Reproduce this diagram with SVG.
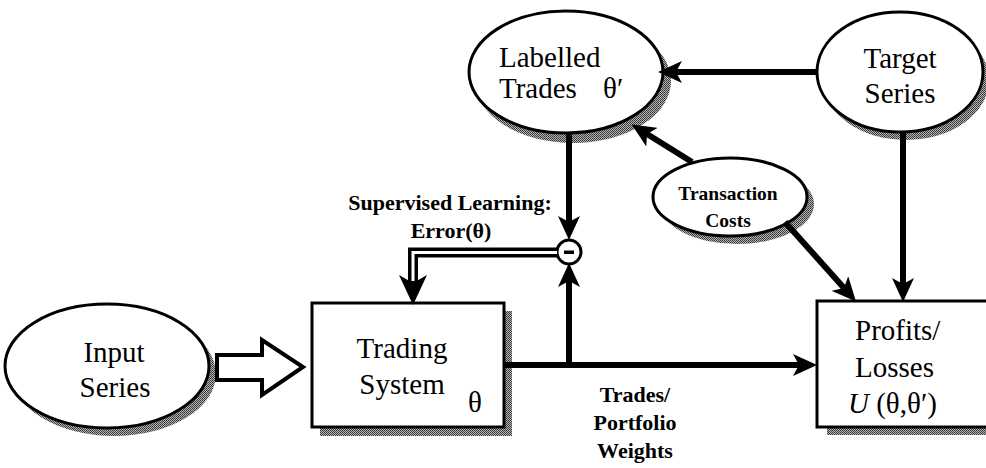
<svg xmlns="http://www.w3.org/2000/svg" width="986" height="468" viewBox="0 0 986 468">
<defs>
<pattern id="stip" width="2" height="2" patternUnits="userSpaceOnUse">
<rect width="2" height="2" fill="#b4b4b4"/>
<rect width="1" height="1" fill="#333"/>
<rect x="1" y="1" width="1" height="1" fill="#444"/>
</pattern>
<marker id="ah" markerUnits="userSpaceOnUse" markerWidth="24" markerHeight="22" viewBox="0 0 24 22" refX="6" refY="11" orient="auto">
<path d="M0,0 L24,11 L0,22 L6,11 Z" fill="#000"/>
</marker>
<marker id="ahb" markerUnits="userSpaceOnUse" markerWidth="30" markerHeight="28" viewBox="0 0 30 28" refX="8" refY="14" orient="auto">
<path d="M0,0 L30,14 L0,28 L8,14 Z" fill="#000"/>
</marker>
</defs>
<style>
.node{fill:#fff;stroke:#000;stroke-width:3}
.shadow{fill:url(#stip);stroke:none}
.t{font-family:"Liberation Serif","Times New Roman",serif;font-size:29px;fill:#000}
.lbl{font-family:"Liberation Serif","Times New Roman",serif;font-weight:bold;font-size:22px;fill:#000}
.conn{fill:none;stroke:#000;stroke-width:6}
</style>
<rect width="986" height="468" fill="#fff"/>

<g id="input-series">
<ellipse class="shadow" cx="114" cy="374" rx="102" ry="62"/>
<ellipse class="node" cx="107" cy="366" rx="102" ry="62"/>
<text class="t" x="114" y="362" text-anchor="middle">Input</text>
<text class="t" x="115" y="397" text-anchor="middle">Series</text>
</g>

<g id="trading-system">
<rect class="shadow" x="320" y="311" width="192" height="125"/>
<rect class="node" x="312" y="303" width="192" height="124"/>
<text class="t" x="402" y="358" text-anchor="middle">Trading</text>
<text class="t" x="402" y="394" text-anchor="middle">System</text>
<text class="t" x="468" y="412">θ</text>
</g>

<g id="labelled-trades">
<ellipse class="shadow" cx="573" cy="81" rx="98" ry="62"/>
<ellipse class="node" cx="566" cy="72" rx="97" ry="61"/>
<text class="t" x="499" y="67">Labelled</text>
<text class="t" x="499" y="98">Trades<tspan x="603">θ′</tspan></text>
</g>

<g id="target-series">
<ellipse class="shadow" cx="906" cy="80" rx="83" ry="60"/>
<ellipse class="node" cx="900" cy="72" rx="83" ry="60"/>
<text class="t" x="900" y="68" text-anchor="middle">Target</text>
<text class="t" x="900" y="103" text-anchor="middle">Series</text>
</g>

<g id="transaction-costs">
<ellipse class="shadow" cx="737" cy="204" rx="77" ry="40"/>
<ellipse class="node" cx="730" cy="197" rx="77" ry="39"/>
<text class="lbl" x="728" y="200" text-anchor="middle" style="font-size:19.5px">Transaction</text>
<text class="lbl" x="728" y="227" text-anchor="middle" style="font-size:19.5px">Costs</text>
</g>

<g id="profits-losses">
<rect class="shadow" x="827" y="311" width="170" height="124"/>
<rect class="node" x="817" y="301" width="180" height="126"/>
<text class="t" x="855" y="340">Profits/</text>
<text class="t" x="855" y="377">Losses</text>
<text class="t" x="848" y="413"><tspan font-style="italic">U</tspan> (θ,θ′)</text>
</g>

<g id="subtract">
<circle cx="569" cy="252" r="12" fill="#fff" stroke="#000" stroke-width="3"/>
<rect x="564" y="250.5" width="10" height="3.5" fill="#000"/>
</g>

<g id="connectors">
<path d="M217,355 H262 V340 L303,367 L262,395 V380 H217 Z" fill="#fff" stroke="#000" stroke-width="4" stroke-linejoin="miter"/>
<path class="conn" d="M817,72 H676" marker-end="url(#ah)"/>
<path class="conn" d="M569,134 V222" marker-end="url(#ah)"/>
<path class="conn" d="M504,365 H799" marker-end="url(#ah)"/>
<path class="conn" d="M569,368 V281" marker-end="url(#ah)"/>
<path class="conn" d="M903,132 V284" marker-end="url(#ah)"/>
<path class="conn" d="M692,162 L647,134" marker-end="url(#ah)"/>
<path class="conn" d="M785,222 L844,288" marker-end="url(#ah)"/>
<path d="M557,252.5 H413 V283" fill="none" stroke="#000" stroke-width="10" marker-end="url(#ahb)"/>
<path d="M557,252.5 H413 V281" fill="none" stroke="#fff" stroke-width="3"/>
</g>

<g id="labels">
<text class="lbl" x="450" y="210" text-anchor="middle">Supervised Learning:</text>
<text class="lbl" x="451" y="238" text-anchor="middle">Error(θ)</text>
<text class="lbl" x="635" y="402" text-anchor="middle">Trades/</text>
<text class="lbl" x="635" y="430" text-anchor="middle">Portfolio</text>
<text class="lbl" x="635" y="458" text-anchor="middle">Weights</text>
</g>
</svg>
